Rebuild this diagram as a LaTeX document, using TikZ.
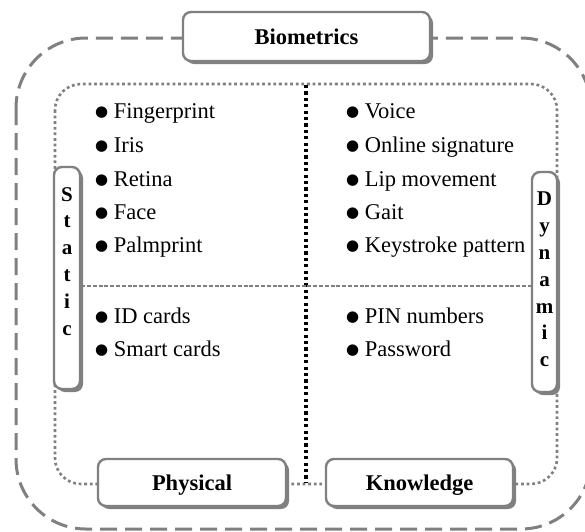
\documentclass[tikz,border=0pt]{standalone}
\usepackage{fontspec}
\setmainfont{Liberation Serif}
\newfontfamily\symfont{DejaVu Sans}
\usetikzlibrary{shadows}
\definecolor{framegray}{RGB}{128,128,128}
% solid list bullet followed by a small gap
\newcommand\bul{\raisebox{1.5pt}{\symfont\fontsize{15}{15}\selectfont ●}\hspace{5.5pt}}
\begin{document}
\begin{tikzpicture}[x=1pt,y=-1pt,
  outerframe/.style={draw=framegray, line width=3pt, dash pattern=on 17pt off 8pt, rounded corners=70pt},
  innerframe/.style={draw=framegray, line width=2.6pt, dash pattern=on 2.8pt off 2.8pt, rounded corners=26pt},
  blackdots/.style={draw=black, line width=3.2pt, dash pattern=on 3.2pt off 3.2pt},
  rowsplit/.style={draw=framegray, line width=2.6pt, dash pattern=on 4pt off 1.8pt},
  labelbox/.style={draw=framegray, line width=2.4pt, fill=white, rounded corners=8pt, inner sep=0pt,
    drop shadow={shadow xshift=3pt, shadow yshift=-3pt, fill=framegray, opacity=1}},
  boldlabel/.style={font=\bfseries\fontsize{22.5}{26}\selectfont, inner sep=0pt},
  vlabel/.style={font=\bfseries\fontsize{21}{26.8}\selectfont, align=center, inner sep=0pt},
  item/.style={anchor=base west, inner sep=0pt, font=\fontsize{22.5}{26}\selectfont}
]
\useasboundingbox (0,0) rectangle (585,531);

% frames
\draw[outerframe] (16,38) rectangle (591,529);
\draw[innerframe] (55,84) rectangle (557,484);

% side boxes
\node[labelbox, minimum width=26pt, minimum height=222pt] (st) at (67,278) {};
\node[labelbox, minimum width=25pt, minimum height=220pt] (dy) at (544.5,282) {};

% quadrant dividers
\coordinate (vtop) at (306,85);
\coordinate (vbot) at (306,483);
\draw[blackdots] (vtop) -- (vbot);
\draw[rowsplit] (st.east |- 0,286) -- (dy.west |- 0,286);

% title boxes
\node[labelbox, minimum width=247pt, minimum height=49pt] (bio) at (306.5,36.5) {};
\node[labelbox, minimum width=188pt, minimum height=47pt] (phy) at (192,482.5) {};
\node[labelbox, minimum width=187pt, minimum height=47pt] (kno) at (419.5,482.5) {};

\node[boldlabel, anchor=base] (biot) at (bio.center |- 0,44) {Biometrics};
\node[boldlabel, anchor=base] (phyt) at (phy.center |- 0,490) {Physical};
\node[boldlabel, anchor=base] (knot) at (kno.center |- 0,490) {Knowledge};

\node[vlabel, anchor=north] (stt) at (67,187) {S\\t\\a\\t\\i\\c};
\node[vlabel, anchor=north] (dyt) at (544.5,192) {D\\y\\n\\a\\m\\i\\c};

% static / physical
\node[item] (a1) at (95,118) {\bul Fingerprint};
\node[item] (a2) at (95,152) {\bul Iris};
\node[item] (a3) at (95,186) {\bul Retina};
\node[item] (a4) at (95,219) {\bul Face};
\node[item] (a5) at (95,252) {\bul Palmprint};
\node[item] (a6) at (95,323) {\bul ID cards};
\node[item] (a7) at (95,356) {\bul Smart cards};

% dynamic / knowledge
\node[item] (b1) at (346,118) {\bul Voice};
\node[item] (b2) at (346,152) {\bul Online signature};
\node[item] (b3) at (346,186) {\bul Lip movement};
\node[item] (b4) at (346,219) {\bul Gait};
\node[item] (b5) at (346,252) {\bul Keystroke pattern};
\node[item] (b6) at (346,323) {\bul PIN numbers};
\node[item] (b7) at (346,356) {\bul Password};
\end{tikzpicture}
\end{document}
